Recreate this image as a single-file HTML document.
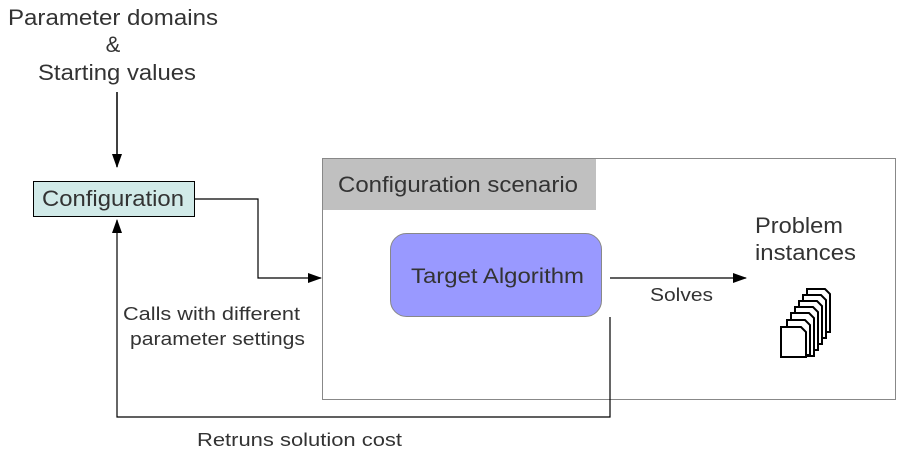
<!DOCTYPE html>
<html><head><style>
body{margin:0;background:#fff;width:897px;height:457px;overflow:hidden;font-family:"Liberation Sans",sans-serif;}
svg text{font-family:"Liberation Sans",sans-serif;fill:#333;}
</style></head><body>
<svg width="897" height="457" xmlns="http://www.w3.org/2000/svg">
<defs><marker id="a" markerWidth="14" markerHeight="10" refX="13" refY="5" orient="auto" markerUnits="userSpaceOnUse"><path d="M0,0 L14,5 L0,10z" fill="#000"/></marker></defs>
<text x="8" y="25" font-size="22" textLength="210" lengthAdjust="spacingAndGlyphs">Parameter domains</text>
<text x="113" y="52" font-size="22" text-anchor="middle">&amp;</text>
<text x="38" y="80" font-size="22" textLength="158" lengthAdjust="spacingAndGlyphs">Starting values</text>
<line x1="117" y1="92" x2="117" y2="167" stroke="#000" stroke-width="1.5" marker-end="url(#a)"/>
<rect x="33.5" y="181.5" width="161" height="35" fill="#d1eae8" stroke="#000"/>
<text x="42" y="206" font-size="22" textLength="142" lengthAdjust="spacingAndGlyphs">Configuration</text>
<polyline points="195,199 258,199 258,278 321,278" fill="none" stroke="#000" stroke-width="1.2" marker-end="url(#a)"/>
<rect x="322.5" y="158.5" width="573" height="241" fill="#fff" stroke="#888"/>
<rect x="323" y="159" width="273" height="51" fill="#c0c0c0"/>
<text x="338" y="192" font-size="22" textLength="240" lengthAdjust="spacingAndGlyphs">Configuration scenario</text>
<rect x="390.5" y="233.5" width="211" height="83" rx="16" fill="#9999ff" stroke="#888"/>
<text x="411" y="283" font-size="21" textLength="173" lengthAdjust="spacingAndGlyphs">Target Algorithm</text>
<line x1="610" y1="278" x2="746" y2="278" stroke="#000" stroke-width="1.2" marker-end="url(#a)"/>
<text x="650" y="301" font-size="18" textLength="63" lengthAdjust="spacingAndGlyphs">Solves</text>
<text x="755" y="233" font-size="22" textLength="88" lengthAdjust="spacingAndGlyphs">Problem</text>
<text x="755" y="260" font-size="22" textLength="101" lengthAdjust="spacingAndGlyphs">instances</text>
<g stroke="#000" stroke-width="2" fill="#fff">
<path d="M807,289 h18 l5,5 v38 h-23z"/>
<path d="M803,295 h18 l5,5 v38 h-23z"/>
<path d="M799,301 h18 l5,5 v38 h-23z"/>
<path d="M795,307 h18 l5,5 v38 h-23z"/>
<path d="M791,313 h18 l5,5 v38 h-23z"/>
<path d="M787,320 h18 l5,5 v30 h-23z"/>
<path d="M781,327 h20 l5,5 v25 h-25z"/>
</g>
<polyline points="610,317 610,417 117,417 117,220" fill="none" stroke="#000" stroke-width="1.2" marker-end="url(#a)"/>
<text x="123" y="320" font-size="18" textLength="177" lengthAdjust="spacingAndGlyphs">Calls with different</text>
<text x="130" y="345" font-size="18" textLength="175" lengthAdjust="spacingAndGlyphs">parameter settings</text>
<text x="197" y="446" font-size="18" textLength="205" lengthAdjust="spacingAndGlyphs">Retruns solution cost</text>
</svg>
</body></html>
